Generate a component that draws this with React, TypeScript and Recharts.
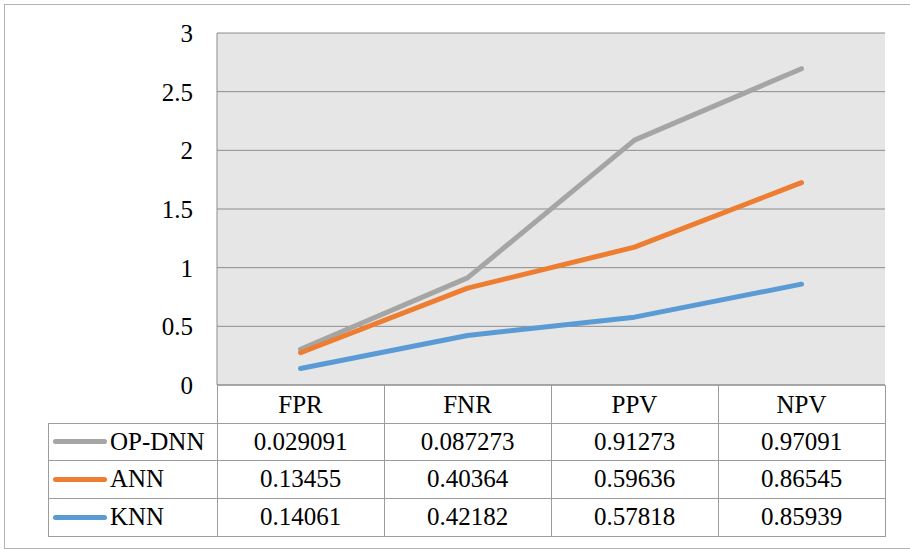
import React from 'react';
import { LineChart, Line, XAxis, YAxis, CartesianGrid } from 'recharts';

const categories = ['FPR', 'FNR', 'PPV', 'NPV'];
const opDnn = [0.029091, 0.087273, 0.91273, 0.97091];
const ann = [0.13455, 0.40364, 0.59636, 0.86545];
const knn = [0.14061, 0.42182, 0.57818, 0.85939];
const yTicks = [0, 0.5, 1, 1.5, 2, 2.5, 3];

const series = [
  { name: 'OP-DNN', values: opDnn, color: '#A5A5A5' },
  { name: 'ANN', values: ann, color: '#ED7D31' },
  { name: 'KNN', values: knn, color: '#5B9BD5' },
];

// stacked line chart: KNN at the bottom, then ANN, then OP-DNN on top
const chartData = categories.map((name, i) => ({
  name,
  KNN: knn[i],
  ANN: knn[i] + ann[i],
  'OP-DNN': knn[i] + ann[i] + opDnn[i],
}));

const FONT = "'Liberation Serif', Tinos, 'Times New Roman', 'DejaVu Serif', serif";
const GRID = '#8c8c8c';
const TABLE_LINE = '#9c9c9c';

// table geometry
const colX = [48, 217, 384, 551, 718, 885];
const rowY = [385, 423, 460, 498, 536];

const DataTable = () => {
  const lines: React.ReactNode[] = [];
  // horizontal lines
  rowY.slice(1).forEach((y, i) => {
    lines.push(
      <div key={'h' + i} style={{ position: 'absolute', left: colX[0], top: y, width: colX[5] - colX[0] + 1, height: 1, background: TABLE_LINE }} />
    );
  });
  // vertical lines
  colX.forEach((x, i) => {
    const top = i === 0 ? rowY[1] : rowY[0];
    lines.push(
      <div key={'v' + i} style={{ position: 'absolute', left: x, top, width: 1, height: rowY[4] - top + 1, background: TABLE_LINE }} />
    );
  });

  const cells: React.ReactNode[] = [];
  series.forEach((s, r) => {
    const top = rowY[r + 1];
    const h = rowY[r + 2] - top;
    cells.push(
      <div key={'l' + r} style={{ position: 'absolute', left: colX[0], top, width: colX[1] - colX[0], height: h, display: 'flex', alignItems: 'center' }}>
        <div style={{ width: 54, height: 5, borderRadius: 3, background: s.color, marginLeft: 5, marginRight: 3 }} />
        <span style={{ fontFamily: FONT, fontSize: 25, color: '#000' }}>{s.name}</span>
      </div>
    );
    s.values.forEach((v, c) => {
      cells.push(
        <div key={'c' + r + '-' + c} style={{ position: 'absolute', left: colX[c + 1], top, width: colX[c + 2] - colX[c + 1], height: h, display: 'flex', alignItems: 'center', justifyContent: 'center', fontFamily: FONT, fontSize: 25, color: '#000' }}>
          {String(v)}
        </div>
      );
    });
  });

  return (
    <>
      {lines}
      {cells}
    </>
  );
};

export default function App() {
  return (
    <div style={{ position: 'absolute', left: 0, top: 0, width: 910, height: 549, overflow: 'hidden', background: '#fff', fontFamily: FONT }}>
      <div style={{ position: 'absolute', left: 4, top: 4, width: 920, height: 543, border: '1px solid #b4b4b4' }} />
      <div style={{ position: 'absolute', left: 0, top: 0 }}>
        <LineChart width={910} height={549} data={chartData} margin={{ top: 33, right: 25, bottom: 126, left: 0 }} style={{ fontFamily: FONT }}>
          <CartesianGrid vertical={false} stroke={GRID} fill="#e7e6e6" fillOpacity={1} />
          <XAxis
            dataKey="name"
            height={38}
            padding={{ left: 83.5, right: 83.5 }}
            axisLine={{ stroke: GRID }}
            tickLine={false}
            tickSize={0}
            tickMargin={10}
            tick={{ fill: '#000', fontSize: 25, fontFamily: FONT }}
          />
          <YAxis
            width={217}
            domain={[0, 3]}
            ticks={yTicks}
            axisLine={{ stroke: GRID }}
            tickLine={false}
            tickSize={0}
            tickMargin={24}
            tick={{ fill: '#000', fontSize: 25, fontFamily: FONT }}
          />
          {series.map((s) => (
            <Line
              key={s.name}
              type="linear"
              dataKey={s.name}
              stroke={s.color}
              strokeWidth={5}
              strokeLinecap="round"
              strokeLinejoin="round"
              dot={false}
              activeDot={false}
              isAnimationActive={false}
            />
          ))}
        </LineChart>
      </div>
      <DataTable />
    </div>
  );
}
